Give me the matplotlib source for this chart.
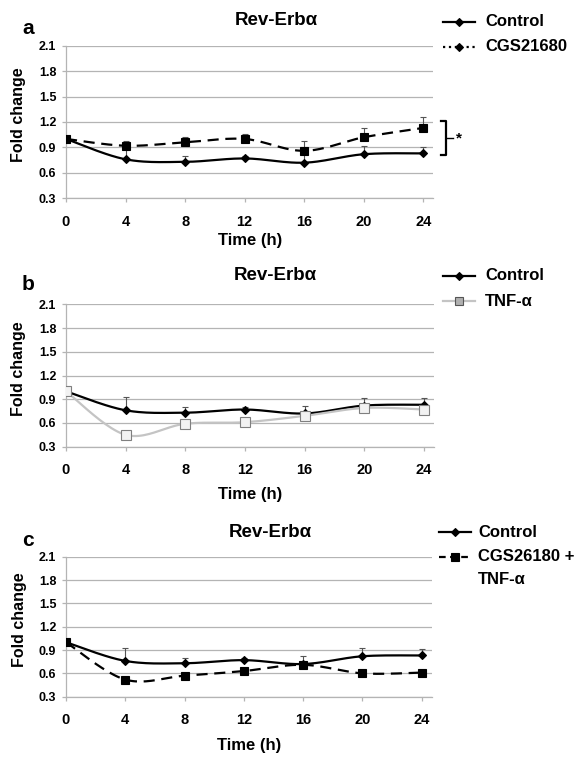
import numpy as np
import matplotlib.pyplot as plt
from matplotlib.lines import Line2D

plt.rcParams['font.family'] = ['Liberation Sans', 'DejaVu Sans']
plt.rcParams['font.weight'] = 'bold'

# data
time_h = [0, 4, 8, 12, 16, 20, 24]
control = [1.00, 0.76, 0.73, 0.77, 0.72, 0.82, 0.83]
control_err = [0.0, 0.17, 0.07, 0.03, 0.10, 0.10, 0.08]
cgs21680 = [1.00, 0.92, 0.96, 1.00, 0.86, 1.02, 1.13]
cgs21680_err = [0.0, 0.05, 0.06, 0.06, 0.11, 0.11, 0.13]
tnf = [1.00, 0.45, 0.59, 0.61, 0.69, 0.79, 0.77]
tnf_err = [0.0, 0.05, 0.02, 0.02, 0.02, 0.03, 0.02]
cgs_tnf = [1.00, 0.52, 0.57, 0.63, 0.71, 0.60, 0.61]
cgs_tnf_err = [0.0, 0.02, 0.02, 0.02, 0.02, 0.02, 0.02]
yticks = [0.3, 0.6, 0.9, 1.2, 1.5, 1.8, 2.1]

W, H = 578, 758
GRID = '#b4b4b4'


def smooth(x, y, n=24):
    # Excel-like smoothed line (bezier through the points)
    x = np.asarray(x, float)
    y = np.asarray(y, float)
    px = np.concatenate([[x[0]], x, [x[-1]]])
    py = np.concatenate([[y[0]], y, [y[-1]]])
    xs, ys = [], []
    t = np.linspace(0, 1, n)
    for i in range(1, len(px) - 2):
        p0 = np.array([px[i], py[i]])
        p3 = np.array([px[i + 1], py[i + 1]])
        c1 = p0 + (np.array([px[i + 1], py[i + 1]]) - np.array([px[i - 1], py[i - 1]])) / 6
        c2 = p3 - (np.array([px[i + 2], py[i + 2]]) - np.array([px[i], py[i]])) / 6
        b = ((1 - t) ** 3)[:, None] * p0 + (3 * (1 - t) ** 2 * t)[:, None] * c1 \
            + (3 * (1 - t) * t ** 2)[:, None] * c2 + (t ** 3)[:, None] * p3
        xs.extend(b[:, 0])
        ys.extend(b[:, 1])
    return xs, ys


def setup(ax, title_x, title_y, xlab_y):
    ax.set_xlim(0, 24.67)
    ax.set_ylim(0.3, 2.1)
    ax.set_yticks(yticks)
    ax.set_yticklabels([f'{v:.1f}' for v in yticks], fontsize=9, fontweight='bold')
    ax.set_xticks(time_h)
    ax.set_xticklabels([str(t) for t in time_h], fontsize=10.5, fontweight='bold')
    ax.grid(axis='y', color=GRID, lw=0.9)
    ax.set_axisbelow(True)
    for s in ['top', 'right']:
        ax.spines[s].set_visible(False)
    for s in ['left', 'bottom']:
        ax.spines[s].set_color(GRID)
        ax.spines[s].set_linewidth(0.9)
    ax.tick_params(axis='y', length=3, width=0.9, color=GRID, pad=4)
    ax.tick_params(axis='x', length=3, width=0.9, color=GRID, pad=9)
    ax.set_ylabel('Fold change', fontsize=11.5, fontweight='bold')
    ax.yaxis.set_label_coords(-0.108, 0.55)
    ax.set_xlabel('Time (h)', fontsize=12, fontweight='bold')
    ax.xaxis.set_label_coords(0.5, xlab_y)
    ax.text(title_x, 1 + title_y, 'Rev-Erbα', transform=ax.transAxes, ha='center',
            va='center', fontsize=13.5, fontweight='bold')


def draw(ax, y, err, color, ls, marker, ms, mfc, mec, lw=1.6):
    sx, sy = smooth(time_h, y)
    ax.plot(sx, sy, color=color, ls=ls, lw=lw, zorder=3)
    ax.errorbar(time_h, y, yerr=[np.zeros(len(err)), err], fmt='none',
                ecolor='#555555', elinewidth=0.8, capsize=2.5, capthick=0.8, zorder=2)
    ax.plot(time_h, y, ls='none', marker=marker, ms=ms, mfc=mfc, mec=mec, mew=0.8, zorder=4)


def legend_entry(fig, x0, x1, y, text_x, label, color, ls, marker, ms, mfc, mec, lw=1.6):
    fx0, fx1, fy = x0 / W, x1 / W, 1 - y / H
    fig.add_artist(Line2D([fx0, fx1], [fy, fy], color=color, ls=ls, lw=lw,
                          transform=fig.transFigure))
    fig.add_artist(Line2D([(fx0 + fx1) / 2], [fy], ls='none', marker=marker, ms=ms,
                          mfc=mfc, mec=mec, mew=0.8, transform=fig.transFigure))
    fig.text(text_x / W, fy, label, fontsize=12, fontweight='bold', va='center', ha='left')


fig = plt.figure(figsize=(W / 100, H / 100), dpi=100)

ax_a = fig.add_axes([66 / W, 1 - 198.3 / H, 367.3 / W, 152.6 / H])
ax_b = fig.add_axes([66 / W, 1 - 446.7 / H, 368 / W, 142.4 / H])
ax_c = fig.add_axes([66 / W, 1 - 696.7 / H, 365.7 / W, 140 / H])

# panel a
setup(ax_a, 0.573, 0.168, -0.225)
draw(ax_a, control, control_err, 'black', '-', 'D', 4.5, 'black', 'black')
draw(ax_a, cgs21680, cgs21680_err, 'black', (0, (5, 3)), 's', 6, 'black', 'black')
bx = [25.2, 25.55, 25.55, 25.2]
by = [1.216, 1.216, 0.811, 0.811]
ax_a.plot(bx, by, color='black', lw=1.6, clip_on=False)
ax_a.plot([25.55, 25.97], [1.008, 1.008], color='black', lw=1.0, clip_on=False)
ax_a.text(26.4, 1.0, '*', fontsize=11, va='center', ha='center', clip_on=False)
fig.text(28 / W, 1 - 29 / H, 'a', fontsize=15, fontweight='bold', ha='center', va='center')
legend_entry(fig, 443, 475, 21.7, 485, 'Control', 'black', '-', 'D', 4.5, 'black', 'black')
legend_entry(fig, 443, 475, 46.7, 485, 'CGS21680', 'black', ':', 'D', 4.5, 'black', 'black')

# panel b
setup(ax_b, 0.57, 0.2, -0.283)
draw(ax_b, control, control_err, 'black', '-', 'D', 4.5, 'black', 'black')
draw(ax_b, tnf, tnf_err, '#c4c4c4', '-', 's', 7, '#f2f2f2', '#7f7f7f')
fig.text(28 / W, 1 - 285 / H, 'b', fontsize=15, fontweight='bold', ha='center', va='center')
legend_entry(fig, 443, 475, 276, 485, 'Control', 'black', '-', 'D', 4.5, 'black', 'black')
legend_entry(fig, 443, 475, 301, 485, 'TNF-α', '#c4c4c4', '-', 's', 6, '#b0b0b0', '#555555')

# panel c
setup(ax_c, 0.56, 0.17, -0.295)
draw(ax_c, control, control_err, 'black', '-', 'D', 4.5, 'black', 'black')
draw(ax_c, cgs_tnf, cgs_tnf_err, 'black', (0, (5, 3)), 's', 6, 'black', 'black')
fig.text(28 / W, 1 - 540 / H, 'c', fontsize=15, fontweight='bold', ha='center', va='center')
legend_entry(fig, 439, 471, 532.3, 478, 'Control', 'black', '-', 'D', 4.5, 'black', 'black')
legend_entry(fig, 439, 471, 556.7, 478, 'CGS26180 +', 'black', (0, (3, 2)), 's', 5.5, 'black', 'black')
fig.text(478 / W, 1 - 580 / H, 'TNF-α', fontsize=12, fontweight='bold', va='center', ha='left')

fig.savefig('out.png', dpi=100)
